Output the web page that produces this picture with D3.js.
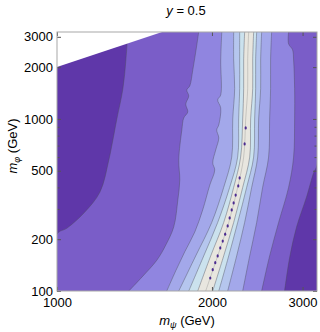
<!DOCTYPE html>
<html>
<head>
<meta charset="utf-8">
<script src="https://cdn.jsdelivr.net/npm/d3@7"></script>
<style>
  body { margin: 0; background: #fff; }
  svg { font-family: "Liberation Sans", Arial, sans-serif; }
  .tick text { font-size: 13px; fill: #000; }
  .tick line { stroke: #555; }
</style>
</head>
<body>
<svg width="320" height="332"></svg>
<script>
var phiRows = [3200, 2200, 1500, 1000, 600, 400, 250, 160, 100];
// m_psi (GeV) of each inner contour at those rows
var ridge  = [2357, 2347, 2347, 2326, 2305, 2244, 2156, 2052, 1945];
var left3  = [2204, 2204, 2214, 2195, 2185, 2108, 1998, 1860, 1724];
var left4  = [2264, 2264, 2264, 2254, 2244, 2165, 2052, 1928, 1803];
var left5  = [2315, 2305, 2305, 2295, 2274, 2204, 2108, 1989, 1877];
var right5 = [2410, 2400, 2400, 2378, 2368, 2295, 2204, 2108, 2007];
var right4 = [2443, 2432, 2432, 2421, 2410, 2336, 2244, 2156, 2062];
var right3 = [2498, 2487, 2487, 2465, 2454, 2389, 2315, 2234, 2146];
var right2 = [2612, 2600, 2600, 2589, 2577, 2509, 2443, 2368, 2295];

// outer contours as [m_psi, m_phi] pairs
var left0 = [[1373,3200],[1361,2200],[1343,1500],[1307,1000],[1284,755],[1261,578],[1212,376],[1128,284],[1046,232],[1000,214],[1000,100]];
var left1 = [[1885,3200],[1869,2690],[1836,1930],[1811,1556],[1787,1474],[1803,1360],[1779,1220],[1795,1098],[1763,1013],[1748,863],[1724,578],[1732,442],[1717,338],[1686,236],[1627,185],[1563,151],[1468,122],[1379,100]];
var left2 = [[2090,3200],[2080,2200],[2080,1379],[2052,1290],[2080,1159],[2062,923],[2043,863],[2062,775],[2034,660],[2007,555],[2025,505],[1981,413],[1919,296],[1852,220],[1771,169],[1701,131],[1634,100]];
var right1 = [[2818,3200],[2818,2730],[2869,2520],[2882,2200],[2895,1500],[2895,1000],[2882,600],[2818,400],[2695,250],[2589,160],[2498,100]];
var right0 = [[3200,3200],[3200,540],[3151,485],[3054,352],[2921,236],[2831,156],[2768,100]];

// small dark spots along the ridge
var spots = [[2326,887],[2315,716],[2264,454],[2250,408],[2224,361],[2204,325],[2185,296],[2165,266],[2146,239],[2122,214],[2099,195],[2076,178],[2052,160],[2030,146],[2007,133],[1985,119]];

// kinematically excluded corner, m_phi > 2 m_psi
var kinLine = [[1000,2000],[1600,3200]];

var bandColors = ["#5f37a9", "#7a5dc8", "#9085e0", "#a3a8ea", "#b5c6ee", "#cbe2ee", "#e8e6df"];

var xTicks = [1000, 2000, 3000];
var yTicks = [100, 200, 500, 1000, 2000, 3000];
var yMinor = [300, 400, 600, 700, 800, 900];

var svg = d3.select("svg"),
    margin = {top: 32, right: 3, bottom: 41, left: 57},
    width = +svg.attr("width") - margin.left - margin.right,
    height = +svg.attr("height") - margin.top - margin.bottom,
    g = svg.append("g").attr("transform", "translate(" + margin.left + "," + margin.top + ")");

var x = d3.scaleLog().domain([1000, 3200]).range([0, width]);
var y = d3.scaleLog().domain([100, 3200]).range([height, 0]);

function rows(a) { return a.map(function (v, i) { return [v, phiRows[i]]; }); }

var curve = d3.line()
    .x(function (d) { return x(d[0]); })
    .y(function (d) { return y(d[1]); })
    .curve(d3.curveCatmullRom.alpha(0.5));

function band(a, b) {
  var back = b.slice().reverse();
  return curve(a) + "L" + curve(back).slice(1) + "Z";
}

svg.append("defs").append("clipPath").attr("id", "clip")
  .append("rect").attr("width", width).attr("height", height);

var plot = g.append("g").attr("clip-path", "url(#clip)");

plot.append("rect").attr("width", width).attr("height", height).attr("fill", bandColors[0]);

var bands = [
  [left0, right0],
  [left1, right1],
  [left2, rows(right2)],
  [rows(left3), rows(right3)],
  [rows(left4), rows(right4)],
  [rows(left5), rows(right5)]
];

plot.selectAll(".band")
  .data(bands)
  .enter().append("path")
  .attr("class", "band")
  .attr("d", function (d) { return band(d[0], d[1]); })
  .attr("fill", function (d, i) { return bandColors[i + 1]; });

var lines = [left0, left1, left2, rows(left3), rows(left4), rows(left5),
             rows(right5), rows(right4), rows(right3), rows(right2), right1, right0];

plot.selectAll(".contour")
  .data(lines)
  .enter().append("path")
  .attr("class", "contour")
  .attr("d", curve)
  .attr("fill", "none")
  .attr("stroke", "#4a4a5a")
  .attr("stroke-opacity", 0.6)
  .attr("stroke-width", 0.7);

plot.append("path")
  .attr("d", curve(rows(ridge)))
  .attr("fill", "none")
  .attr("stroke", "#777")
  .attr("stroke-opacity", 0.5)
  .attr("stroke-width", 0.6);

plot.selectAll(".spot")
  .data(spots)
  .enter().append("ellipse")
  .attr("class", "spot")
  .attr("cx", function (d) { return x(d[0]); })
  .attr("cy", function (d) { return y(d[1]); })
  .attr("rx", 1.1)
  .attr("ry", 1.6)
  .attr("fill", "#4b2a90");

// white excluded region
plot.append("path")
  .attr("d", "M" + x(kinLine[0][0]) + "," + y(kinLine[0][1]) +
             "L" + x(kinLine[1][0]) + "," + y(kinLine[1][1]) +
             "L0," + y(kinLine[1][1]) + "Z")
  .attr("fill", "#fff");

// axes, ticks inside the frame
g.append("g")
  .attr("transform", "translate(0," + height + ")")
  .call(d3.axisBottom(x).tickValues(xTicks).tickSize(-4).tickPadding(7).tickFormat(d3.format("d")))
  .call(function (s) { s.select(".domain").remove(); });

g.append("g")
  .call(d3.axisTop(x).tickValues(xTicks).tickSize(-4).tickFormat(""))
  .call(function (s) { s.select(".domain").remove(); });

g.append("g")
  .call(d3.axisLeft(y).tickValues(yTicks).tickSize(-4).tickPadding(4).tickFormat(d3.format("d")))
  .call(function (s) { s.select(".domain").remove(); });

g.append("g")
  .call(d3.axisLeft(y).tickValues(yMinor).tickSize(-2.5).tickFormat(""))
  .call(function (s) { s.select(".domain").remove(); });

g.append("g")
  .attr("transform", "translate(" + width + ",0)")
  .call(d3.axisRight(y).tickValues(yTicks).tickSize(-4).tickFormat(""))
  .call(function (s) { s.select(".domain").remove(); });

g.append("g")
  .attr("transform", "translate(" + width + ",0)")
  .call(d3.axisRight(y).tickValues(yMinor).tickSize(-2.5).tickFormat(""))
  .call(function (s) { s.select(".domain").remove(); });

g.append("rect")
  .attr("width", width).attr("height", height)
  .attr("fill", "none").attr("stroke", "#a8a8a8").attr("stroke-width", 1);

// title and axis labels
var title = svg.append("text")
  .attr("x", 186).attr("y", 15)
  .attr("text-anchor", "middle")
  .attr("font-size", 13);
title.append("tspan").attr("font-style", "italic").text("y");
title.append("tspan").text(" = 0.5");

var xl = svg.append("text")
  .attr("x", 187).attr("y", 325)
  .attr("text-anchor", "middle")
  .attr("font-size", 13);
xl.append("tspan").attr("font-style", "italic").text("m");
xl.append("tspan").attr("font-size", 9).attr("dy", 3).attr("font-style", "italic").text("ψ");
xl.append("tspan").attr("dy", -3).text(" (GeV)");

var yl = svg.append("text")
  .attr("transform", "translate(17,146) rotate(-90)")
  .attr("text-anchor", "middle")
  .attr("font-size", 13);
yl.append("tspan").attr("font-style", "italic").text("m");
yl.append("tspan").attr("font-size", 9).attr("dy", 3).attr("font-style", "italic").text("φ");
yl.append("tspan").attr("dy", -3).text(" (GeV)");
</script>
</body>
</html>
